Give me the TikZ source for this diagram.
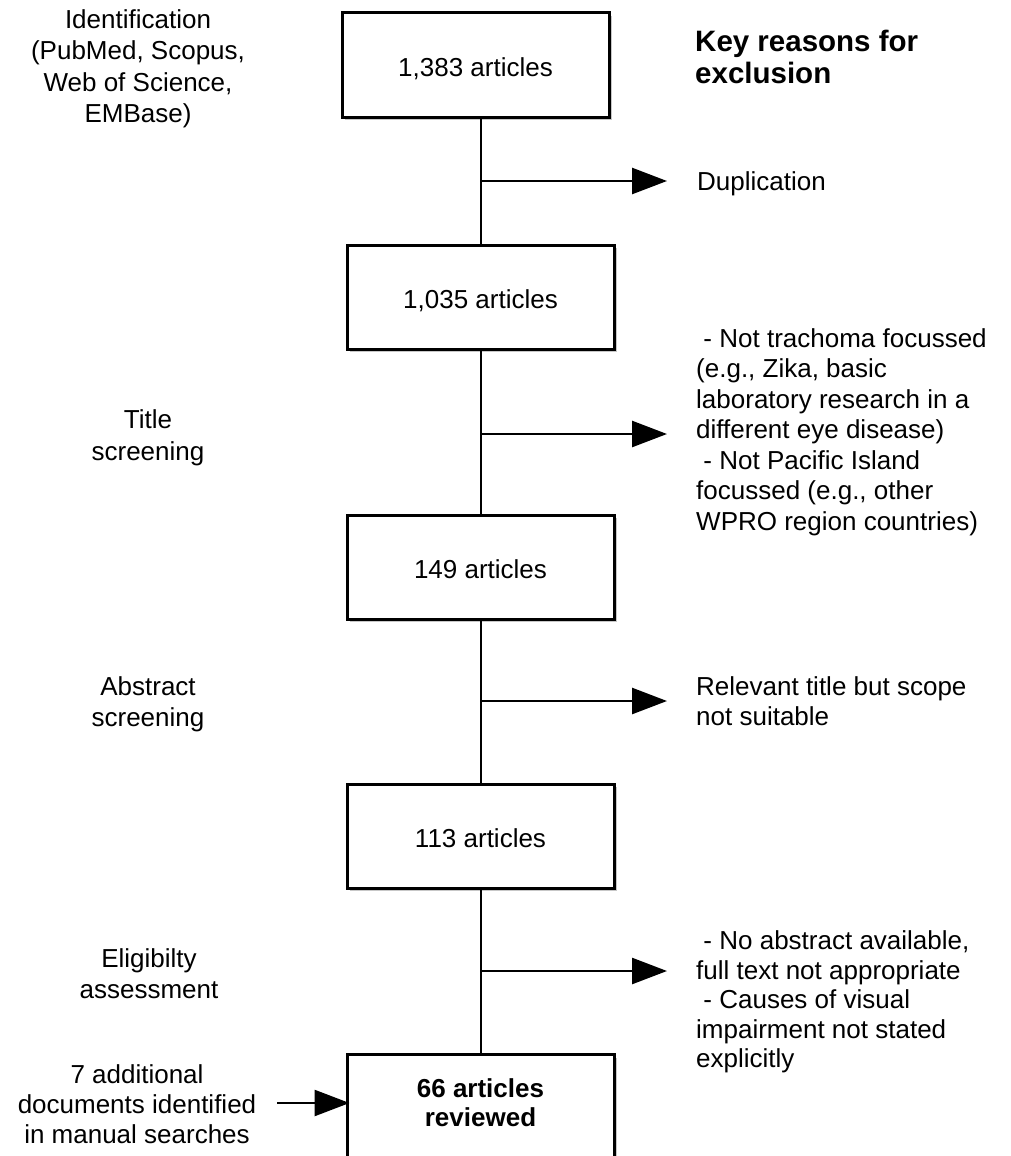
\documentclass[tikz,border=0pt]{standalone}
\usepackage{fontspec}
\setmainfont{Liberation Sans}
\usetikzlibrary{arrows.meta,shadows}
\newcommand{\boxtext}[1]{\raisebox{-11.5pt}[0pt][0pt]{#1}}
\begin{document}
\begin{tikzpicture}[x=1pt,y=-1pt,
  every node/.style={font=\fontsize{26}{31}\selectfont, text=black},
  box/.style={draw, line width=3pt, fill=white, minimum width=267pt, minimum height=104pt,
    inner sep=0pt, align=center,
    drop shadow={shadow xshift=3pt, shadow yshift=-3pt, fill=black, opacity=0.22}},
  lbl/.style={align=center, inner sep=0pt},
  rtxt/.style={align=left, anchor=west, inner sep=0pt},
  conn/.style={line width=2.6pt},
  arr/.style={conn, -{Triangle[length=35pt,width=26pt]}}]
\useasboundingbox (0,0) rectangle (1010,1156);
\clip (0,0) rectangle (1010,1156);

% boxes
\node[box] (b1) at (475.5,65) {\boxtext{1,383 articles}};
\node[box] (b2) at (480.5,297) {\boxtext{1,035 articles}};
\node[box] (b3) at (480.5,567) {\boxtext{149 articles}};
\node[box] (b4) at (480.5,836) {\boxtext{113 articles}};
\node[box, minimum height=112pt, anchor=north] (b5) at (480.5,1053) {};
\node[font=\bfseries\fontsize{26}{29}\selectfont, align=center, inner sep=0pt] (t5) at (480.5,1103) {66 articles\\reviewed};

% left labels
\node[lbl, font=\fontsize{26}{31.5}\selectfont] (l1) at (138,69) {Identification\\(PubMed, Scopus,\\Web of Science,\\EMBase)};
\node[lbl, font=\fontsize{26}{32}\selectfont] (l2) at (148,438) {Title\\screening};
\node[lbl, font=\fontsize{26}{31}\selectfont] (l3) at (148,704) {Abstract\\screening};
\node[lbl, font=\fontsize{26}{31}\selectfont] (l4) at (149,974) {Eligibilty\\assessment};
\node[lbl, font=\fontsize{26}{30}\selectfont] (l5) at (137,1104) {7 additional\\documents identified\\in manual searches};

% right texts
\node[rtxt, font=\bfseries\fontsize{29.5}{32}\selectfont] (k) at (695,57) {Key reasons for\\exclusion};
\node[rtxt] (r1) at (697,184) {Duplication};
\node[rtxt, font=\fontsize{26}{30.5}\selectfont] (r2) at (696,432) {\hspace*{0.28em}- Not trachoma focussed\\(e.g., Zika, basic\\laboratory research in a\\different eye disease)\\\hspace*{0.28em}- Not Pacific Island\\focussed (e.g., other\\WPRO region countries)};
\node[rtxt, font=\fontsize{26}{30.5}\selectfont] (r3) at (696,701) {Relevant title but scope\\not suitable};
\node[rtxt, font=\fontsize{26}{29.5}\selectfont] (r4) at (696,1002) {\hspace*{0.28em}- No abstract available,\\full text not appropriate\\\hspace*{0.28em}- Causes of visual\\impairment not stated\\explicitly};

% junctions and arrow ends
\coordinate (j1) at (481,181); \coordinate (e1) at (667,181);
\coordinate (j2) at (481,434); \coordinate (e2) at (667,434);
\coordinate (j3) at (481,701); \coordinate (e3) at (667,701);
\coordinate (j4) at (481,971); \coordinate (e4) at (667,971);
\coordinate (s5) at (277,1103);

% vertical connectors
\draw[conn] (b1.south -| j1) -- (b2.north -| j1);
\draw[conn] (b2.south -| j2) -- (b3.north -| j2);
\draw[conn] (b3.south -| j3) -- (b4.north -| j3);
\draw[conn] (b4.south -| j4) -- (b5.north -| j4);

% exclusion arrows
\draw[arr] (j1) -- (e1);
\draw[arr] (j2) -- (e2);
\draw[arr] (j3) -- (e3);
\draw[arr] (j4) -- (e4);

% additional documents arrow
\draw[arr, shorten >=-4pt] (s5) -- (b5.west |- s5);
\end{tikzpicture}
\end{document}
